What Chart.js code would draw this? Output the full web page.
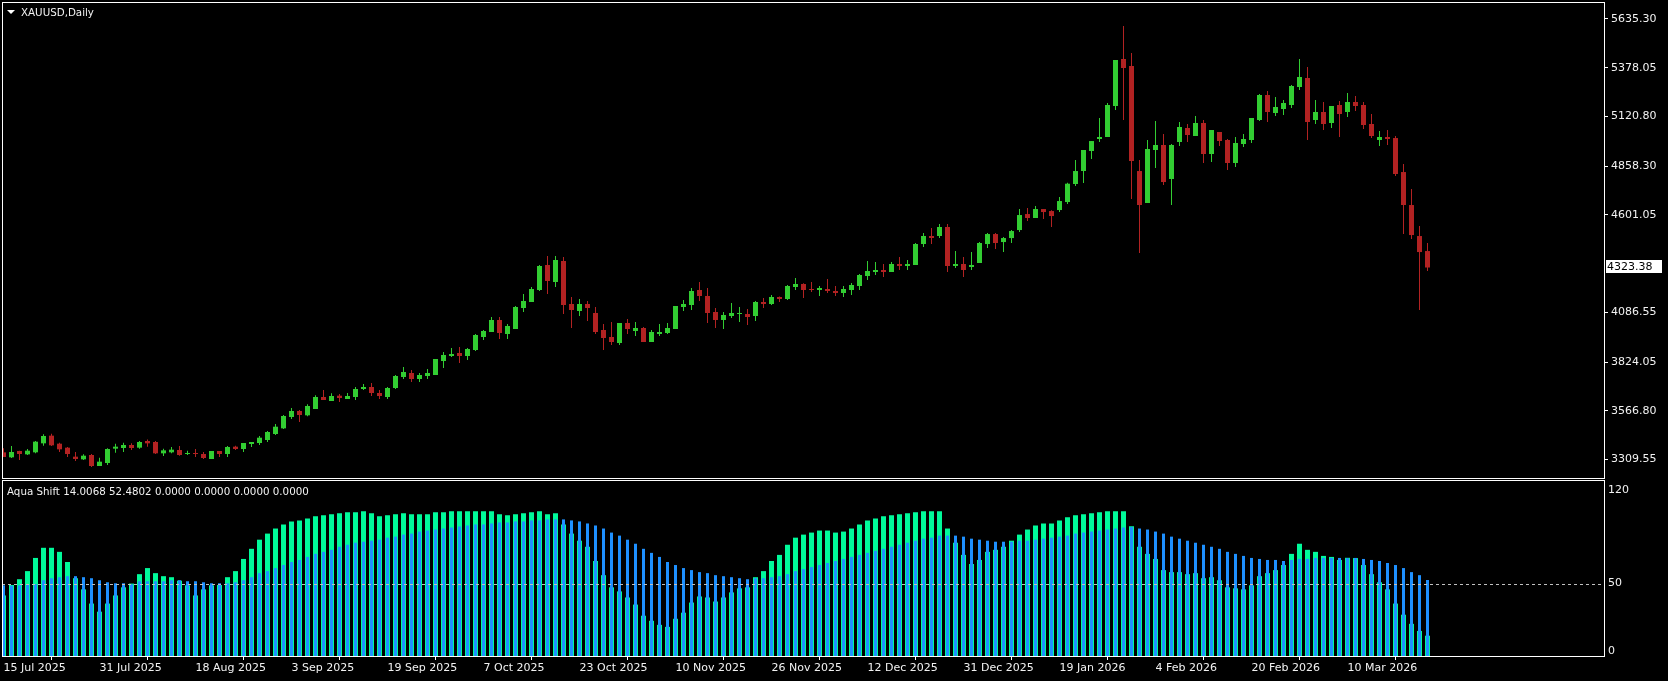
<!DOCTYPE html>
<html>
<head>
<meta charset="utf-8">
<script src="https://cdn.jsdelivr.net/npm/chart.js@4.4.1/dist/chart.umd.min.js"></script>
<style>
html, body { margin: 0; padding: 0; background: #000; }
#wrap { position: relative; width: 1668px; height: 681px; overflow: hidden; background: #000; }
canvas { position: absolute; left: 0; }
</style>
</head>
<body>
<div id="wrap">
<canvas id="price-chart" width="1668" height="480" style="top:0"></canvas>
<canvas id="aqua-chart" width="1668" height="201" style="top:480px"></canvas>
</div>
<script>
const symbolTitle = 'XAUUSD,Daily';
const indicatorName = 'Aqua Shift';

const dateLabels = ['15 Jul 2025', '31 Jul 2025', '18 Aug 2025', '3 Sep 2025', '19 Sep 2025', '7 Oct 2025',
    '23 Oct 2025', '10 Nov 2025', '26 Nov 2025', '12 Dec 2025', '31 Dec 2025', '19 Jan 2026',
    '4 Feb 2026', '20 Feb 2026', '10 Mar 2026'];
const priceTicks = [3309.55, 3566.80, 3824.05, 4086.55, 4601.05, 4858.30, 5120.80, 5378.05, 5635.30];
const aquaLevels = ['0', '50', '120'];
const aquaExtra = [0, 0, 0, 0];

const open = [
3347.7, 3321.3, 3354.7, 3337.0, 3347.7, 3395.2, 3435.7, 3393.4, 3372.3, 3324.8,
3310.7, 3333.6, 3275.5, 3291.4, 3367.0, 3370.6, 3386.4, 3372.3, 3407.5, 3402.2,
3342.4, 3347.7, 3360.0, 3338.9, 3342.4, 3338.9, 3312.5, 3354.7, 3338.9, 3377.6,
3365.3, 3391.7, 3396.9, 3412.7, 3444.4, 3474.3, 3534.1, 3565.8, 3543.0, 3576.4,
3639.7, 3618.6, 3646.8, 3629.2, 3639.7, 3682.0, 3692.5, 3660.9, 3639.7, 3687.3,
3745.3, 3766.5, 3734.8, 3750.6, 3755.9, 3829.8, 3856.2, 3872.0, 3856.2, 3887.9,
3956.5, 3982.9, 4046.2, 3972.3, 3998.7, 4109.6, 4141.2, 4204.6, 4336.6, 4246.8,
4357.7, 4130.7, 4093.7, 4130.7, 4083.2, 3993.4, 3956.4, 3924.8, 4030.4, 3988.1,
4004.0, 3930.0, 3972.3, 3977.6, 3998.7, 4114.9, 4125.4, 4204.6, 4172.9, 4088.4,
4046.2, 4067.3, 4077.9, 4078.0, 4067.4, 4141.3, 4130.7, 4167.7, 4157.1, 4220.4,
4236.3, 4209.9, 4204.6, 4209.9, 4199.3, 4188.8, 4204.6, 4225.7, 4278.5, 4299.6,
4310.2, 4299.6, 4341.9, 4331.3, 4336.6, 4447.5, 4489.7, 4489.7, 4537.3, 4331.3,
4341.9, 4326.0, 4347.2, 4447.3, 4500.1, 4457.8, 4478.9, 4521.2, 4605.7, 4584.6,
4632.1, 4621.5, 4626.8, 4669.0, 4764.1, 4832.7, 4938.3, 5001.7, 5012.2, 5175.9,
5424.1, 5387.1, 4832.7, 4663.8, 4943.6, 4970.0, 4790.5, 4985.8, 5059.8, 5017.5,
5086.1, 4922.5, 5038.6, 4996.4, 4875.0, 4975.3, 4996.4, 5102.0, 5234.0, 5139.0,
5160.1, 5181.2, 5276.2, 5323.8, 5102.0, 5144.2, 5086.2, 5181.2, 5144.2, 5197.0,
5181.2, 5080.9, 4996.4, 5012.2, 5006.9, 4827.4, 4653.2, 4489.5, 4410.3
];
const high = [
3368.8, 3381.0, 3356.0, 3365.0, 3407.5, 3442.7, 3446.0, 3398.7, 3375.8, 3349.4,
3337.0, 3339.0, 3319.5, 3368.8, 3393.4, 3398.7, 3395.0, 3407.5, 3416.0, 3407.5,
3367.0, 3375.8, 3381.0, 3356.5, 3365.3, 3349.4, 3354.7, 3354.7, 3381.0, 3382.9,
3397.0, 3402.2, 3433.8, 3460.0, 3497.0, 3544.7, 3581.7, 3571.0, 3601.0, 3648.5,
3676.7, 3659.0, 3655.6, 3660.9, 3692.5, 3708.4, 3713.6, 3676.7, 3692.5, 3756.0,
3798.0, 3782.0, 3766.5, 3787.6, 3840.4, 3877.3, 3898.5, 3903.8, 3898.5, 3972.4,
3993.5, 4062.1, 4062.0, 4025.0, 4120.1, 4183.5, 4220.4, 4336.6, 4384.1, 4384.1,
4378.8, 4167.6, 4157.0, 4146.5, 4114.9, 4025.0, 4035.6, 4030.4, 4051.5, 4035.6,
4009.0, 3993.4, 4025.0, 4030.4, 4120.1, 4151.8, 4215.2, 4246.8, 4215.2, 4109.6,
4088.4, 4136.0, 4115.0, 4104.4, 4146.6, 4162.5, 4178.2, 4170.0, 4231.0, 4268.0,
4240.0, 4246.8, 4225.7, 4262.7, 4225.7, 4225.7, 4241.6, 4289.1, 4357.7, 4352.4,
4341.9, 4352.4, 4378.8, 4363.0, 4452.8, 4505.6, 4532.0, 4553.1, 4553.1, 4410.5,
4378.8, 4405.2, 4457.9, 4505.4, 4505.0, 4484.2, 4521.2, 4632.1, 4637.4, 4648.0,
4632.1, 4626.0, 4695.4, 4771.1, 4890.8, 4943.6, 4991.0, 5112.6, 5191.8, 5418.8,
5598.3, 5455.8, 4890.8, 4996.4, 5096.7, 5028.1, 4975.3, 5091.4, 5080.9, 5123.1,
5102.0, 5049.2, 5038.6, 5001.7, 5012.2, 5028.1, 5112.6, 5239.3, 5255.1, 5223.4,
5207.6, 5286.8, 5424.1, 5381.8, 5207.6, 5197.0, 5175.9, 5202.3, 5244.6, 5228.7,
5197.0, 5133.7, 5043.9, 5049.2, 5017.5, 4869.7, 4737.7, 4542.3, 4452.6
];
const low = [
3323.0, 3317.8, 3307.0, 3333.6, 3342.4, 3382.9, 3381.0, 3349.4, 3323.0, 3302.0,
3307.0, 3270.0, 3275.5, 3280.8, 3345.9, 3349.4, 3360.0, 3367.0, 3377.6, 3338.9,
3328.3, 3342.4, 3330.0, 3333.6, 3323.0, 3312.5, 3312.5, 3323.0, 3323.0, 3360.0,
3349.4, 3375.8, 3386.3, 3402.0, 3439.0, 3470.8, 3523.6, 3507.7, 3537.7, 3576.4,
3623.9, 3618.6, 3613.3, 3629.2, 3623.9, 3676.7, 3645.0, 3629.2, 3629.2, 3682.0,
3734.8, 3718.9, 3718.9, 3734.8, 3755.9, 3792.9, 3851.0, 3819.3, 3835.1, 3882.6,
3940.7, 3982.9, 3945.9, 3945.9, 3998.7, 4088.4, 4141.2, 4199.3, 4183.5, 4220.4,
4077.9, 4004.0, 4067.3, 4040.9, 3972.3, 3887.8, 3914.2, 3914.2, 3972.3, 3961.7,
3930.0, 3930.0, 3961.7, 3972.3, 3998.7, 4093.7, 4099.0, 4146.5, 4030.4, 4004.0,
3998.7, 4056.7, 4035.7, 4019.9, 4041.0, 4109.7, 4125.0, 4141.3, 4151.9, 4204.6,
4162.4, 4194.0, 4172.9, 4188.8, 4172.9, 4167.6, 4178.2, 4204.6, 4257.4, 4283.8,
4273.2, 4299.6, 4310.2, 4310.2, 4336.6, 4431.6, 4447.5, 4479.2, 4299.6, 4320.8,
4273.2, 4310.2, 4347.2, 4426.2, 4420.9, 4405.0, 4452.6, 4510.6, 4568.7, 4584.6,
4579.3, 4537.0, 4616.2, 4658.5, 4753.5, 4769.4, 4896.1, 4985.8, 5012.2, 5154.8,
5102.0, 4684.9, 4399.8, 4663.8, 4848.6, 4758.8, 4653.2, 4964.7, 4985.8, 5017.5,
4875.0, 4880.3, 4964.7, 4838.0, 4853.8, 4959.4, 4980.6, 5096.7, 5091.4, 5123.1,
5128.4, 5165.4, 5260.4, 4996.4, 5080.9, 5049.2, 5059.8, 5012.2, 5117.8, 5149.5,
5054.5, 5006.9, 4964.7, 4970.0, 4806.3, 4500.1, 4473.7, 4098.8, 4304.7
];
const close = [
3323.0, 3349.4, 3338.9, 3356.5, 3404.0, 3434.0, 3384.6, 3363.5, 3338.9, 3312.5,
3330.0, 3275.5, 3298.4, 3365.3, 3377.6, 3386.4, 3370.6, 3402.2, 3395.2, 3342.4,
3358.2, 3361.8, 3333.6, 3342.4, 3338.9, 3317.8, 3354.7, 3338.9, 3375.8, 3365.3,
3397.0, 3402.2, 3425.0, 3455.0, 3483.0, 3539.4, 3565.8, 3544.7, 3592.2, 3639.7,
3623.9, 3645.0, 3634.5, 3645.0, 3682.0, 3692.5, 3660.9, 3645.0, 3687.3, 3750.6,
3771.7, 3734.8, 3756.0, 3766.5, 3840.4, 3861.5, 3866.8, 3856.2, 3893.2, 3967.0,
3988.2, 4046.3, 3977.6, 4014.5, 4114.9, 4146.5, 4209.9, 4331.3, 4252.1, 4363.0,
4125.4, 4099.0, 4130.7, 4109.6, 3982.8, 3951.1, 3930.0, 4030.4, 3998.7, 4004.0,
3930.0, 3982.8, 3982.8, 4004.0, 4120.1, 4130.7, 4199.3, 4172.9, 4083.2, 4046.2,
4072.6, 4083.2, 4083.3, 4062.1, 4141.3, 4130.8, 4167.7, 4157.1, 4225.7, 4236.3,
4204.6, 4204.6, 4215.2, 4199.3, 4188.8, 4209.9, 4231.0, 4283.8, 4304.9, 4310.2,
4299.6, 4341.9, 4331.3, 4341.9, 4447.5, 4489.7, 4479.2, 4537.3, 4331.3, 4341.9,
4310.2, 4336.6, 4452.8, 4500.1, 4452.6, 4478.9, 4515.9, 4600.4, 4584.6, 4632.1,
4616.2, 4595.1, 4674.3, 4765.9, 4832.7, 4943.6, 4991.0, 5012.2, 5181.2, 5418.8,
5376.6, 4885.5, 4653.2, 4948.9, 4970.0, 4774.6, 4970.0, 5065.0, 5022.8, 5086.1,
4922.5, 5049.2, 4991.1, 4875.0, 4980.6, 5001.7, 5112.6, 5234.0, 5144.2, 5170.6,
5191.8, 5281.5, 5329.0, 5091.4, 5144.2, 5080.9, 5175.9, 5133.7, 5197.0, 5175.9,
5075.6, 5017.5, 5012.2, 5001.7, 4816.9, 4653.2, 4494.8, 4405.0, 4323.38
];

const aquaFast = [
41.8, 49.0, 53.0, 58.6, 67.7, 74.7, 74.7, 71.9, 64.9, 53.7,
46.0, 36.2, 30.6, 36.2, 41.8, 47.4, 50.0, 56.5, 60.7, 57.2,
55.1, 54.4, 52.0, 48.8, 41.8, 46.0, 48.8, 49.0, 54.4, 58.6,
67.0, 74.0, 80.3, 84.5, 88.0, 90.8, 92.9, 93.6, 95.0, 96.4,
97.1, 97.8, 98.5, 99.2, 99.2, 99.9, 98.5, 96.4, 97.1, 97.8,
98.5, 97.8, 97.8, 97.8, 99.2, 99.2, 99.9, 99.9, 99.9, 100.0,
100.0, 100.0, 97.8, 97.1, 97.8, 98.5, 99.2, 99.9, 97.8, 98.5,
90.8, 84.5, 79.6, 75.4, 65.6, 55.8, 47.4, 44.6, 40.4, 35.5,
27.8, 24.3, 21.5, 20.1, 25.7, 29.9, 36.9, 41.1, 40.4, 37.6,
40.4, 43.9, 46.7, 47.4, 54.4, 58.6, 65.6, 69.8, 76.8, 81.7,
83.8, 85.2, 86.6, 86.6, 85.2, 85.9, 88.0, 90.8, 93.6, 95.0,
96.4, 97.1, 97.8, 98.5, 99.2, 99.9, 99.9, 99.9, 88.0, 78.2,
69.8, 63.5, 66.3, 71.9, 73.3, 75.4, 79.6, 83.8, 87.3, 90.1,
91.5, 91.5, 93.6, 95.7, 97.1, 97.8, 98.5, 99.2, 99.9, 99.9,
99.9, 89.5, 75.4, 70.5, 67.0, 59.3, 57.9, 57.9, 56.5, 57.2,
53.7, 54.4, 52.3, 47.4, 46.7, 46.0, 48.8, 55.1, 57.2, 59.3,
62.8, 70.5, 77.5, 73.3, 71.9, 69.1, 68.4, 66.3, 67.8, 67.6,
62.8, 56.5, 50.9, 46.0, 36.2, 28.5, 22.2, 17.3, 14.0068
];
const aquaSlow = [
48.8, 48.5, 48.8, 49.5, 49.5, 52.3, 53.7, 54.4, 55.1, 55.1,
54.4, 53.7, 52.3, 50.9, 50.2, 50.2, 49.5, 51.6, 51.6, 51.6,
51.6, 52.3, 52.3, 51.6, 51.6, 50.9, 50.2, 50.2, 50.2, 50.9,
52.3, 54.4, 57.2, 58.6, 60.7, 62.8, 64.9, 66.3, 68.4, 70.5,
71.9, 73.3, 75.4, 76.8, 78.2, 78.9, 79.6, 80.3, 81.7, 82.4,
83.8, 84.5, 85.9, 86.6, 87.3, 88.0, 88.7, 89.4, 90.1, 90.8,
90.8, 91.5, 92.2, 92.2, 92.9, 92.9, 93.6, 93.6, 94.3, 94.3,
94.3, 93.6, 92.9, 91.5, 90.1, 88.0, 85.2, 83.1, 80.3, 77.5,
74.0, 71.2, 68.4, 64.9, 62.8, 60.7, 59.3, 57.9, 57.2, 55.8,
55.1, 54.4, 53.7, 53.0, 53.7, 53.7, 54.4, 55.1, 56.5, 58.6,
60.0, 61.4, 62.8, 64.2, 65.6, 67.0, 68.4, 69.8, 71.2, 72.6,
74.0, 75.4, 76.8, 78.2, 79.6, 81.0, 81.7, 83.1, 83.1, 83.1,
82.4, 81.0, 80.3, 79.6, 78.9, 78.9, 78.9, 79.6, 79.6, 80.3,
81.0, 81.7, 82.4, 83.1, 84.5, 85.2, 85.9, 86.6, 87.3, 88.0,
88.7, 89.0, 88.0, 87.3, 85.9, 84.5, 82.4, 81.0, 79.6, 78.2,
76.8, 75.4, 74.0, 71.9, 70.5, 69.1, 67.7, 67.0, 66.3, 66.3,
65.6, 66.3, 67.0, 67.0, 67.7, 67.7, 67.7, 67.7, 67.6, 67.7,
67.0, 66.3, 65.6, 64.2, 62.8, 60.7, 57.9, 55.8, 52.4802
];

const bull = '#32cd32';
const bear = '#b22222';
const textColor = '#f2f2f2';
const barMin = -0.1875;
const barMax = 200.0625;

Chart.defaults.font.family = '"DejaVu Sans", sans-serif';
Chart.defaults.font.size = 11;

function wickData() {
    let bars = [];
    for (let i = 0; i < close.length; i++)
        bars.push({ x: i, y: [low[i], high[i]] });
    return bars;
}
function bodyData() {
    let bars = [];
    for (let i = 0; i < close.length; i++)
        bars.push({ x: i, y: [Math.min(open[i], close[i]), Math.max(open[i], close[i])] });
    return bars;
}
function candleColors() {
    return close.map((c, i) => c >= open[i] ? bull : bear);
}
function seriesData(values) {
    return values.map((v, i) => ({ x: i, y: v }));
}
// keep the plot area exactly where the panes sit, no room for label overhang
function fixAxis(size, vertical) {
    return s => {
        if (vertical) s.width = size; else s.height = size;
        s.paddingTop = 0;
        s.paddingBottom = 0;
        s.paddingLeft = 0;
        s.paddingRight = 0;
    };
}

const priceOverlay = {
    id: 'priceOverlay',
    afterDraw(chart) {
        const ctx = chart.ctx;
        const a = chart.chartArea;
        ctx.save();
        ctx.strokeStyle = '#ffffff';
        ctx.lineWidth = 1;
        ctx.strokeRect(a.left + 0.5, a.top + 0.5, a.right - a.left, a.bottom - a.top);

        ctx.fillStyle = '#ffffff';
        ctx.beginPath();
        ctx.moveTo(7, 10);
        ctx.lineTo(15, 10);
        ctx.lineTo(11, 14);
        ctx.closePath();
        ctx.fill();
        ctx.fillStyle = textColor;
        ctx.font = '10.3px "DejaVu Sans"';
        ctx.textBaseline = 'middle';
        ctx.fillText(symbolTitle, 21, 13);

        const last = close[close.length - 1];
        const y = Math.round(chart.scales.y.getPixelForValue(last)) - 2;
        ctx.fillStyle = '#ffffff';
        ctx.fillRect(1606, y - 6, 56, 13);
        ctx.fillStyle = '#000000';
        ctx.font = '11px "DejaVu Sans"';
        ctx.fillText(last.toFixed(2), 1607, y + 1);
        ctx.restore();
    }
};

const aquaOverlay = {
    id: 'aquaOverlay',
    afterDraw(chart) {
        const ctx = chart.ctx;
        const a = chart.chartArea;
        ctx.save();
        const y50 = Math.round(chart.scales.y.getPixelForValue(50)) + 0.5;
        ctx.strokeStyle = '#c0c0c0';
        ctx.lineWidth = 1;
        ctx.setLineDash([3, 3]);
        ctx.beginPath();
        ctx.moveTo(a.left, y50);
        ctx.lineTo(a.right, y50);
        ctx.stroke();
        ctx.setLineDash([]);

        ctx.strokeStyle = '#ffffff';
        ctx.strokeRect(a.left + 0.5, a.top + 0.5, a.right - a.left, a.bottom - a.top);

        let text = indicatorName + ' ' + aquaFast[aquaFast.length - 1].toFixed(4) + ' ' +
            aquaSlow[aquaSlow.length - 1].toFixed(4) + ' ' + aquaExtra.map(v => v.toFixed(4)).join(' ');
        ctx.fillStyle = textColor;
        ctx.font = '10.3px "DejaVu Sans"';
        ctx.textBaseline = 'middle';
        ctx.fillText(text, 7, 12);
        ctx.restore();
    }
};

const canvas = document.getElementById('price-chart').getContext('2d');
const chartAqua = document.getElementById('aqua-chart').getContext('2d');

let priceChart = new Chart(canvas, {
    type: 'bar',
    data: {
        datasets: [{
            data: wickData(),
            backgroundColor: candleColors(),
            barThickness: 1,
            grouped: false,
            inflateAmount: 0,
            order: 2
        }, {
            data: bodyData(),
            backgroundColor: candleColors(),
            barThickness: 5,
            minBarLength: 1,
            grouped: false,
            inflateAmount: 0,
            order: 1
        }]
    },
    options: {
        responsive: false,
        animation: false,
        layout: { padding: { left: 2, top: 2, right: 0, bottom: 2 } },
        plugins: { legend: { display: false }, tooltip: { enabled: false } },
        scales: {
            x: { type: 'linear', display: false, min: barMin, max: barMax, offset: false },
            y: {
                position: 'right',
                min: 3212.2,
                max: 5725.0,
                afterFit: fixAxis(64, true),
                afterBuildTicks: s => { s.ticks = priceTicks.map(v => ({ value: v })); },
                ticks: { color: textColor, padding: 3, autoSkip: false, callback: v => v.toFixed(2) },
                grid: { drawOnChartArea: false, drawTicks: true, tickLength: 4, tickColor: '#ffffff' },
                border: { display: false }
            }
        }
    },
    plugins: [priceOverlay]
});

let aquaChart = new Chart(chartAqua, {
    type: 'bar',
    data: {
        datasets: [{
            data: seriesData(aquaFast),
            backgroundColor: '#00fa9a',
            barThickness: 5,
            grouped: false,
            inflateAmount: 0,
            order: 2
        }, {
            data: seriesData(aquaSlow),
            backgroundColor: '#1e90ff',
            barThickness: 3,
            grouped: false,
            inflateAmount: 0,
            order: 1
        }]
    },
    options: {
        responsive: false,
        animation: false,
        layout: { padding: { left: 2, top: 0, right: 0, bottom: 0 } },
        plugins: { legend: { display: false }, tooltip: { enabled: false } },
        scales: {
            x: {
                type: 'linear',
                min: barMin,
                max: barMax,
                offset: false,
                afterFit: fixAxis(25, false),
                afterBuildTicks: s => { s.ticks = dateLabels.map((d, i) => ({ value: i * 12 })); },
                ticks: { color: textColor, align: 'start', padding: 2, autoSkip: false, maxRotation: 0,
                    callback: (v, i) => dateLabels[i] },
                grid: { drawOnChartArea: false, drawTicks: true, tickLength: 4, tickColor: '#ffffff' },
                border: { display: false }
            },
            y: {
                position: 'right',
                min: 0,
                max: 121.5,
                afterFit: fixAxis(64, true),
                afterBuildTicks: s => { s.ticks = [{ value: 3.5 }, { value: 50 }, { value: 114.5 }]; },
                ticks: { color: textColor, padding: 4, autoSkip: false, callback: (v, i) => aquaLevels[i] },
                grid: { drawOnChartArea: false, drawTicks: false },
                border: { display: false }
            }
        }
    },
    plugins: [aquaOverlay]
});
</script>
</body>
</html>
